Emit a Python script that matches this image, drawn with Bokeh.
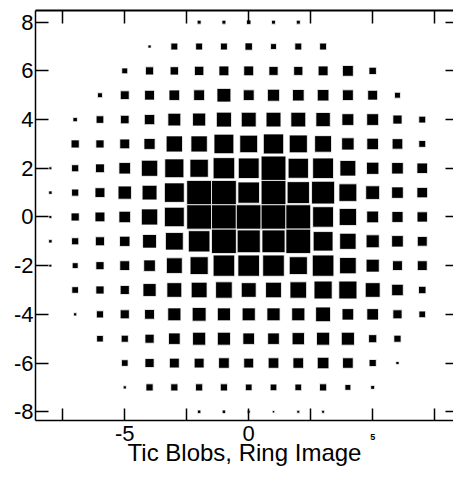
from bokeh.plotting import figure
from bokeh.models import Range1d, LinearAxis, FixedTicker, ColumnDataSource
from bokeh.embed import file_html
from bokeh.resources import INLINE

# Grid columns (x = -8 .. 7); each row gives blob size (fraction of a cell) per column, 0 = no blob
x_cols = list(range(-8, 8))
y_rows = [8, 7, 6, 5, 4, 3, 2, 1, 0, -1, -2, -3, -4, -5, -6, -7, -8]

row_p8 = [0, 0, 0, 0, 0, 0, 0.16, 0.16, 0.18, 0.16, 0.16, 0, 0, 0, 0, 0]
row_p7 = [0, 0, 0, 0, 0.13, 0.28, 0.28, 0.28, 0.30, 0.24, 0.28, 0.28, 0, 0, 0, 0]
row_p6 = [0, 0, 0, 0.24, 0.33, 0.34, 0.38, 0.40, 0.40, 0.37, 0.37, 0.40, 0.44, 0.30, 0, 0]
row_p5 = [0, 0, 0.20, 0.36, 0.40, 0.43, 0.44, 0.56, 0.44, 0.49, 0.47, 0.47, 0.44, 0.40, 0.24, 0]
row_p4 = [0, 0.18, 0.31, 0.35, 0.42, 0.52, 0.53, 0.61, 0.60, 0.60, 0.60, 0.58, 0.48, 0.48, 0.37, 0.28]
row_p3 = [0, 0.33, 0.33, 0.40, 0.45, 0.66, 0.66, 0.80, 0.72, 0.82, 0.73, 0.68, 0.50, 0.47, 0.43, 0.28]
row_p2 = [0.12, 0.29, 0.36, 0.47, 0.66, 0.77, 0.74, 0.87, 0.84, 1.00, 0.82, 0.84, 0.64, 0.50, 0.47, 0.43]
row_p1 = [0.14, 0.29, 0.40, 0.54, 0.60, 0.80, 1.00, 1.00, 0.87, 1.00, 0.90, 0.93, 0.72, 0.56, 0.47, 0.43]
row_00 = [0.12, 0.33, 0.40, 0.47, 0.66, 0.80, 1.00, 1.00, 1.00, 1.00, 1.00, 0.84, 0.70, 0.48, 0.45, 0.42]
row_m1 = [0.14, 0.29, 0.37, 0.42, 0.56, 0.72, 0.87, 1.00, 0.93, 0.93, 1.00, 0.80, 0.66, 0.53, 0.47, 0.40]
row_m2 = [0.12, 0.24, 0.33, 0.40, 0.47, 0.64, 0.73, 0.87, 0.87, 0.87, 0.73, 0.87, 0.67, 0.53, 0.40, 0.40]
row_m3 = [0, 0.27, 0.33, 0.37, 0.53, 0.60, 0.64, 0.67, 0.60, 0.64, 0.67, 0.73, 0.73, 0.60, 0.47, 0.30]
row_m4 = [0, 0.13, 0.29, 0.37, 0.40, 0.53, 0.56, 0.53, 0.53, 0.53, 0.53, 0.60, 0.47, 0.47, 0.37, 0.27]
row_m5 = [0, 0, 0.27, 0.29, 0.37, 0.47, 0.53, 0.53, 0.47, 0.47, 0.50, 0.53, 0.53, 0.33, 0.29, 0]
row_m6 = [0, 0, 0, 0.27, 0.37, 0.40, 0.40, 0.43, 0.40, 0.43, 0.43, 0.47, 0.43, 0.29, 0.13, 0]
row_m7 = [0, 0, 0, 0.13, 0.29, 0.29, 0.29, 0.29, 0.27, 0.27, 0.27, 0.29, 0.24, 0.16, 0, 0]
row_m8 = [0, 0, 0, 0, 0, 0, 0.14, 0.14, 0.12, 0.10, 0.12, 0.12, 0, 0, 0, 0]

rows = [row_p8, row_p7, row_p6, row_p5, row_p4, row_p3, row_p2, row_p1, row_00,
        row_m1, row_m2, row_m3, row_m4, row_m5, row_m6, row_m7, row_m8]

x_big_ticks = [-5, 0]            # labelled in the normal font
x_big_labels = ["-5", "0"]
x_small_ticks = [5]              # labelled in a tiny bold font
x_small_labels = ["5"]
x_plain_ticks = [-7.5, -2.5, 2.5, 7.5]
y_major_ticks = [-8, -6, -4, -2, 0, 2, 4, 6, 8]
y_major_labels = ["-8", "-6", "-4", "-2", "0", "2", "4", "6", "8"]
x_title = "Tic Blobs, Ring Image"

xs, ys, ss = [], [], []
for yv, row in zip(y_rows, rows):
    for xv, s in zip(x_cols, row):
        if s > 0:
            xs.append(xv)
            ys.append(yv)
            ss.append(s)
src = ColumnDataSource(dict(x=xs, y=ys, s=ss))

FONT = "Liberation Sans"
all_x_ticks = sorted(x_big_ticks + x_small_ticks + x_plain_ticks)

p = figure(width=453, height=473, output_backend="svg", toolbar_location=None,
           x_range=Range1d(-8.6, 8.26), y_range=Range1d(-8.36, 8.48),
           min_border_left=35, min_border_right=0, min_border_top=10, min_border_bottom=53,
           x_axis_location=None, y_axis_location=None)
p.outline_line_color = None
p.xgrid.visible = False
p.ygrid.visible = False
p.background_fill_color = "white"
p.border_fill_color = "white"

p.rect(x="x", y="y", width="s", height="s", source=src,
       fill_color="black", line_color="white", line_width=0.8)

# bottom axis 1: frame line, all tick marks, and the tiny bold "5"
xb1 = LinearAxis(ticker=FixedTicker(ticks=x_small_ticks,
                                    minor_ticks=[t for t in all_x_ticks if t not in x_small_ticks]))
xb1.major_label_overrides = {t: l for t, l in zip(x_small_ticks, x_small_labels)}
xb1.axis_line_color = "black"
xb1.axis_line_width = 1.5
xb1.major_tick_in = 12
xb1.major_tick_out = 0
xb1.minor_tick_in = 12
xb1.minor_tick_out = 0
xb1.major_tick_line_width = 1.5
xb1.minor_tick_line_width = 1.5
xb1.major_label_standoff = 13
xb1.major_label_text_font = FONT
xb1.major_label_text_font_size = "9px"
xb1.major_label_text_font_style = "bold"
xb1.major_label_text_color = "black"
p.add_layout(xb1, "below")

# bottom axis 2: the normal labels and the title (no line, no ticks)
xb2 = LinearAxis(ticker=FixedTicker(ticks=x_big_ticks, minor_ticks=[]))
xb2.major_label_overrides = {t: l for t, l in zip(x_big_ticks, x_big_labels)}
xb2.axis_line_color = None
xb2.major_tick_line_color = None
xb2.minor_tick_line_color = None
xb2.major_tick_in = 0
xb2.major_tick_out = 0
xb2.minor_tick_in = 0
xb2.minor_tick_out = 0
xb2.major_label_standoff = -17
xb2.major_label_text_font = FONT
xb2.major_label_text_font_size = "22px"
xb2.major_label_text_color = "black"
xb2.axis_label = x_title
xb2.axis_label_text_font = FONT
xb2.axis_label_text_font_size = "24px"
xb2.axis_label_text_font_style = "normal"
xb2.axis_label_text_color = "black"
xb2.axis_label_standoff = -5
p.add_layout(xb2, "below")

# top axis (ticks only, no labels)
xt = LinearAxis(ticker=FixedTicker(ticks=[], minor_ticks=all_x_ticks))
xt.axis_line_width = 2
xt.major_tick_in = 0
xt.major_tick_out = 0
xt.minor_tick_in = 13
xt.minor_tick_out = 0
xt.minor_tick_line_width = 1.5
xt.major_label_standoff = 0
p.add_layout(xt, "above")

# left axis
yl = LinearAxis(ticker=FixedTicker(ticks=y_major_ticks, minor_ticks=[]))
yl.major_label_overrides = {t: l for t, l in zip(y_major_ticks, y_major_labels)}
yl.axis_line_width = 1.5
yl.major_tick_in = 13
yl.major_tick_out = 0
yl.minor_tick_out = 0
yl.major_tick_line_width = 1.5
yl.major_label_standoff = 2
yl.major_label_text_font = FONT
yl.major_label_text_font_size = "22px"
yl.major_label_text_color = "black"
p.add_layout(yl, "left")

# right axis (ticks only, no labels)
yr = LinearAxis(ticker=FixedTicker(ticks=[], minor_ticks=y_major_ticks))
yr.axis_line_color = None
yr.major_tick_in = 0
yr.major_tick_out = 0
yr.minor_tick_in = 8
yr.minor_tick_out = 0
yr.minor_tick_line_width = 1.5
yr.major_label_standoff = 0
p.add_layout(yr, "right")

open("out.html", "w").write(file_html(p, INLINE))
